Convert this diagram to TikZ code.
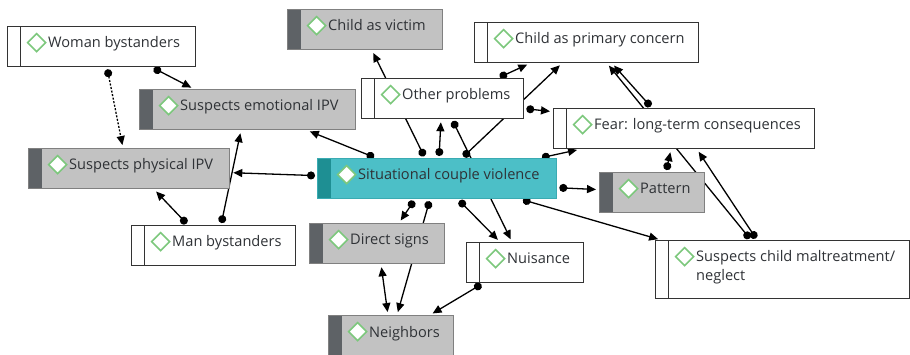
\documentclass[tikz,border=0pt]{standalone}
\usepackage{fontspec}
\setmainfont{Open Sans}
\usetikzlibrary{arrows.meta,backgrounds}

\definecolor{txtgray}{HTML}{2F3236}
\definecolor{boxfill}{HTML}{C2C2C2}
\definecolor{boxedge}{HTML}{808080}
\definecolor{stripgray}{HTML}{5E6266}
\definecolor{tealfill}{HTML}{4CBFC7}
\definecolor{tealstrip}{HTML}{1E8F93}
\definecolor{tealedge}{HTML}{3AABB2}
\definecolor{edgedark}{HTML}{333333}
\definecolor{icongreen}{HTML}{7DC87D}

\tikzset{
  codeicon/.style={draw=icongreen, fill=white, line width=1.6pt, line join=miter},
  codebox/.style={rectangle, anchor=north west, minimum height=40pt, inner sep=0pt, line width=1.3pt},
  graycode/.style={codebox, draw=boxedge, fill=boxfill,
    path picture={
      \fill[stripgray] (path picture bounding box.north west) rectangle ([xshift=13pt]path picture bounding box.south west);
      \draw[codeicon] ([xshift=29pt,yshift=-16pt]path picture bounding box.north west) +(-9pt,0) -- +(0,9pt) -- +(9pt,0) -- +(0,-9pt) -- cycle;
    }},
  tealcode/.style={codebox, draw=tealedge, fill=tealfill,
    path picture={
      \fill[tealstrip] (path picture bounding box.north west) rectangle ([xshift=13pt]path picture bounding box.south west);
      \draw[codeicon] ([xshift=29pt,yshift=-16pt]path picture bounding box.north west) +(-9pt,0) -- +(0,9pt) -- +(9pt,0) -- +(0,-9pt) -- cycle;
    }},
  whitecode/.style={codebox, draw=edgedark, fill=white,
    path picture={
      \draw[edgedark, line width=1.3pt] ([xshift=13pt]path picture bounding box.north west) -- ([xshift=13pt]path picture bounding box.south west);
      \draw[codeicon] ([xshift=29pt,yshift=-16pt]path picture bounding box.north west) +(-9pt,0) -- +(0,9pt) -- +(9pt,0) -- +(0,-9pt) -- cycle;
    }},
  codetext/.style={anchor=base west, inner sep=0pt, text=txtgray, align=left,
    font=\fontsize{14.6}{18.5}\selectfont},
  codelink/.style={draw=black, line width=1.3pt, shorten <=2pt, shorten >=3pt,
    {Circle[length=8pt]}-{Triangle[length=9pt,width=8pt]}},
  codeboth/.style={draw=black, line width=1.3pt, shorten <=3pt, shorten >=3pt,
    {Triangle[length=9pt,width=8pt]}-{Triangle[length=9pt,width=8pt]}},
  codedotted/.style={dash pattern=on 2pt off 1.6pt}
}

\begin{document}
\begin{tikzpicture}[x=1pt, y=-1pt]
  \useasboundingbox (0,0) rectangle (910,355);

  \node[whitecode, minimum width=188pt] (woman) at (7,26) {};
  \node[graycode, minimum width=216pt] (emo) at (139,89) {};
  \node[graycode, minimum width=201pt] (phys) at (28,148) {};
  \node[whitecode, minimum width=164pt] (man) at (131,225) {};
  \node[graycode, minimum width=155pt] (victim) at (287,9) {};
  \node[whitecode, minimum width=162pt] (other) at (361,78) {};
  \node[whitecode, minimum width=224pt] (primary) at (474,22) {};
  \node[whitecode, minimum width=261pt] (fear) at (553,108) {};
  \node[tealcode, minimum width=239pt] (scv) at (317,158) {};
  \node[graycode, minimum width=105pt] (pattern) at (599,172) {};
  \node[graycode, minimum width=135pt] (direct) at (309,223) {};
  \node[whitecode, minimum width=117pt] (nuisance) at (466,242) {};
  \node[whitecode, minimum width=254pt, minimum height=58pt] (maltreat) at (655,240) {};
  \node[graycode, minimum width=125pt, minimum height=42pt] (neighbors) at (328,315) {};

  \node[codetext] (woman-t) at ([xshift=41pt,yshift=-22pt]woman.north west) {Woman bystanders};
  \node[codetext] (emo-t) at ([xshift=41pt,yshift=-22pt]emo.north west) {Suspects emotional IPV};
  \node[codetext] (phys-t) at ([xshift=41pt,yshift=-22pt]phys.north west) {Suspects physical IPV};
  \node[codetext] (man-t) at ([xshift=41pt,yshift=-22pt]man.north west) {Man bystanders};
  \node[codetext] (victim-t) at ([xshift=41pt,yshift=-22pt]victim.north west) {Child as victim};
  \node[codetext] (other-t) at ([xshift=41pt,yshift=-22pt]other.north west) {Other problems};
  \node[codetext] (primary-t) at ([xshift=41pt,yshift=-22pt]primary.north west) {Child as primary concern};
  \node[codetext] (fear-t) at ([xshift=41pt,yshift=-22pt]fear.north west) {Fear: long-term consequences};
  \node[codetext] (scv-t) at ([xshift=41pt,yshift=-22pt]scv.north west) {Situational couple violence};
  \node[codetext] (pattern-t) at ([xshift=41pt,yshift=-22pt]pattern.north west) {Pattern};
  \node[codetext] (direct-t) at ([xshift=41pt,yshift=-22pt]direct.north west) {Direct signs};
  \node[codetext] (nuisance-t) at ([xshift=41pt,yshift=-22pt]nuisance.north west) {Nuisance};
  \node[codetext] (maltreat-t) at ([xshift=41pt,yshift=-40pt]maltreat.north west) {Suspects child maltreatment/\\neglect};
  \node[codetext] (neighbors-t) at ([xshift=41pt,yshift=-22pt]neighbors.north west) {Neighbors};

  \begin{scope}[on background layer]
    \draw[codelink, codedotted] ([xshift=100pt]woman.south west) -- ([xshift=95pt]phys.north west);
    \draw[codelink] ([xshift=145pt]woman.south west) -- ([xshift=55pt]emo.north west);
    \draw[codelink] ([xshift=57pt]man.north west) -- ([xshift=126pt]phys.south west);
    \draw[codelink] ([xshift=90pt]man.north west) -- ([xshift=102pt]emo.south west);
    \draw[codelink] ([yshift=3pt]scv.west) -- ([yshift=-4pt]phys.east);
    \draw[codelink] ([xshift=59pt]scv.north west) -- ([xshift=168pt]emo.south west);
    \draw[codelink] ([xshift=108pt]scv.north west) -- ([xshift=85pt]victim.south west);
    \draw[codelink] ([xshift=122pt]scv.north west) -- ([xshift=80pt]other.south west);
    \draw[codelink] ([xshift=91pt]other.south west) -- ([xshift=46pt]nuisance.north west);
    \draw[codelink] ([xshift=145pt]scv.north west) -- ([xshift=88pt]primary.south west);
    \draw[codelink] ([xshift=137pt]other.north west) -- ([xshift=56pt]primary.south west);
    \draw[codelink] ([yshift=-10pt]other.east) -- ([yshift=17pt]fear.west);
    \draw[codelink] ([xshift=223pt]scv.north west) -- ([xshift=27pt]fear.south west);
    \draw[codelink] ([xshift=99pt]fear.north west) -- ([xshift=138pt]primary.south west);
    \draw[codelink] ([xshift=96pt]maltreat.north west) -- ([xshift=133pt]primary.south west);
    \draw[codelink] ([xshift=102pt]maltreat.north west) -- ([xshift=144pt]fear.south west);
    \draw[codelink] ([xshift=67pt]pattern.north west) -- ([xshift=118pt]fear.south west);
    \draw[codelink] ([yshift=-9pt]scv.east) -- ([yshift=3pt]pattern.west);
    \draw[codelink] ([xshift=204pt]scv.south west) -- ([xshift=6pt]maltreat.north west);
    \draw[codelink] ([xshift=98pt]scv.south west) -- ([xshift=90pt]direct.north west);
    \draw[codelink] ([xshift=141pt]scv.south west) -- ([xshift=34pt]nuisance.north west);
    \draw[codelink] ([xshift=113pt]scv.south west) -- ([xshift=69pt]neighbors.north west);
    \draw[codeboth] ([xshift=72pt]direct.south west) -- ([xshift=60pt]neighbors.north west);
    \draw[codelink] ([xshift=17pt]nuisance.south west) -- ([xshift=102pt]neighbors.north west);
  \end{scope}
\end{tikzpicture}
\end{document}
